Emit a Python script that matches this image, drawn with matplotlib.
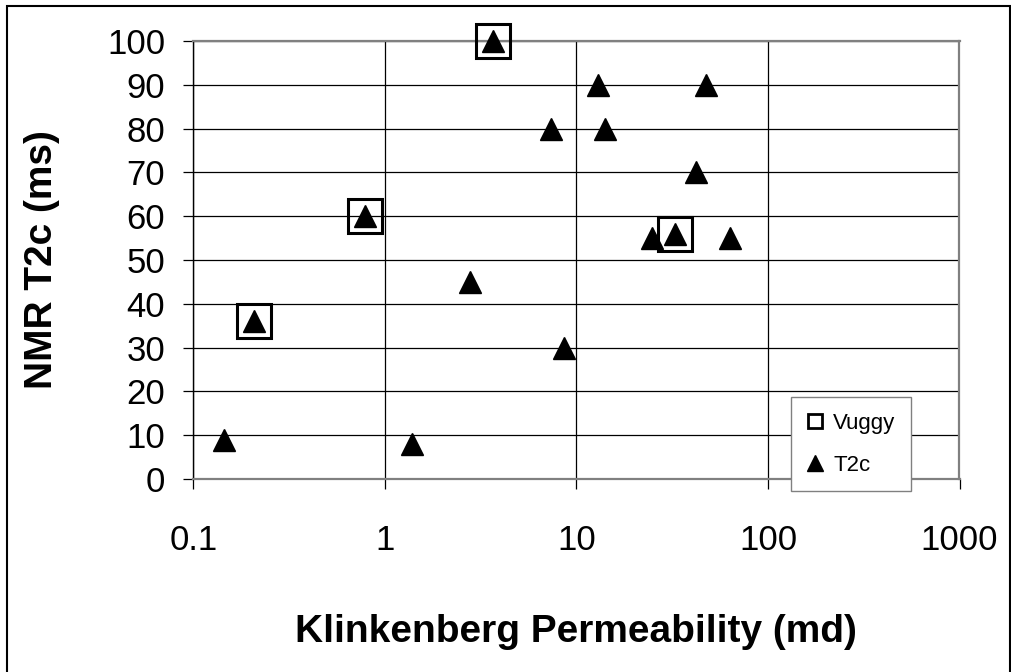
import numpy as np
import matplotlib
matplotlib.use("Agg")
from matplotlib import pyplot as plt
from matplotlib.lines import Line2D
from matplotlib.patches import Rectangle

plt.rcParams['font.family'] = ['Liberation Sans', 'DejaVu Sans']

# Klinkenberg permeability (md) and NMR T2c (ms)
perm_t2c = [0.145, 0.208, 0.79, 1.39, 2.78, 3.67, 7.37, 8.65, 13.0, 14.1, 24.9, 32.9, 42.3, 47.7, 63.0]
t2c = [9, 36, 60, 8, 45, 100, 80, 30, 90, 80, 55, 56, 70, 90, 55]

# samples flagged as vuggy
perm_vuggy = [0.208, 0.79, 3.67, 32.9]
t2c_vuggy = [36, 60, 100, 56]

x_ticks = [0.1, 1, 10, 100, 1000]
x_labels = ['0.1', '1', '10', '100', '1000']
y_ticks = list(range(0, 101, 10))


def make_plot():
    fig = plt.figure(figsize=(10.12, 6.72), dpi=100)
    ax = fig.add_axes([193.3 / 1012, 1 - 479 / 672, (959.5 - 193.3) / 1012, (479 - 41) / 672])

    ax.plot(perm_vuggy, t2c_vuggy, linestyle='none', marker='s', markersize=24,
            markerfacecolor='none', markeredgecolor='black', markeredgewidth=2.2,
            clip_on=False, zorder=3)
    ax.plot(perm_t2c, t2c, linestyle='none', marker='^', markersize=16,
            markerfacecolor='black', markeredgecolor='black', markeredgewidth=1,
            clip_on=False, zorder=4)

    ax.set_xscale('log')
    ax.set_xlim(0.1, 1000)
    ax.set_ylim(0, 100)
    ax.set_xticks(x_ticks)
    ax.set_xticklabels(x_labels)
    ax.xaxis.set_minor_locator(matplotlib.ticker.NullLocator())
    ax.set_yticks(y_ticks)

    ax.grid(True, color='black', linewidth=0.9)
    ax.tick_params(axis='both', direction='out', length=7.2, width=0.9,
                   color='black', labelsize=25)
    ax.tick_params(axis='y', pad=13)
    ax.tick_params(axis='x', pad=25)

    for side in ['top', 'right', 'bottom']:
        ax.spines[side].set_color('#808080')
        ax.spines[side].set_linewidth(1.6)
    ax.spines['left'].set_color('black')
    ax.spines['left'].set_linewidth(1)

    ax.set_xlabel('Klinkenberg Permeability (md)', fontsize=28, fontweight='bold', va='center')
    ax.xaxis.set_label_coords(0.5, -(632 - 479) / 438)
    ax.set_ylabel('NMR T2c (ms)', fontsize=28, fontweight='bold', va='center')
    ax.yaxis.set_label_coords((42 - 193.3) / 766.2, 0.5)

    handles = [
        Line2D([], [], linestyle='none', marker='s', markersize=10, markerfacecolor='none',
               markeredgecolor='black', markeredgewidth=2),
        Line2D([], [], linestyle='none', marker='^', markersize=12, markerfacecolor='black',
               markeredgecolor='black'),
    ]
    leg = fig.legend(handles, ['Vuggy', 'T2c'], loc='upper left',
                     bbox_to_anchor=(791 / 1012, 1 - 397 / 672), fontsize=16,
                     frameon=True, fancybox=False, edgecolor='#808080', framealpha=1,
                     labelspacing=0.95, handlelength=0.8, handletextpad=0.4,
                     borderpad=0.7, borderaxespad=0)
    leg.get_frame().set_linewidth(1)

    # outer chart border
    fig.patches.append(Rectangle((7 / 1012, -0.02), 1003 / 1012, 1 - 6 / 672 + 0.02,
                                 transform=fig.transFigure, fill=False,
                                 edgecolor='black', linewidth=1.5))

    fig.savefig('out.png', dpi=100)


if __name__ == "__main__":
    make_plot()
